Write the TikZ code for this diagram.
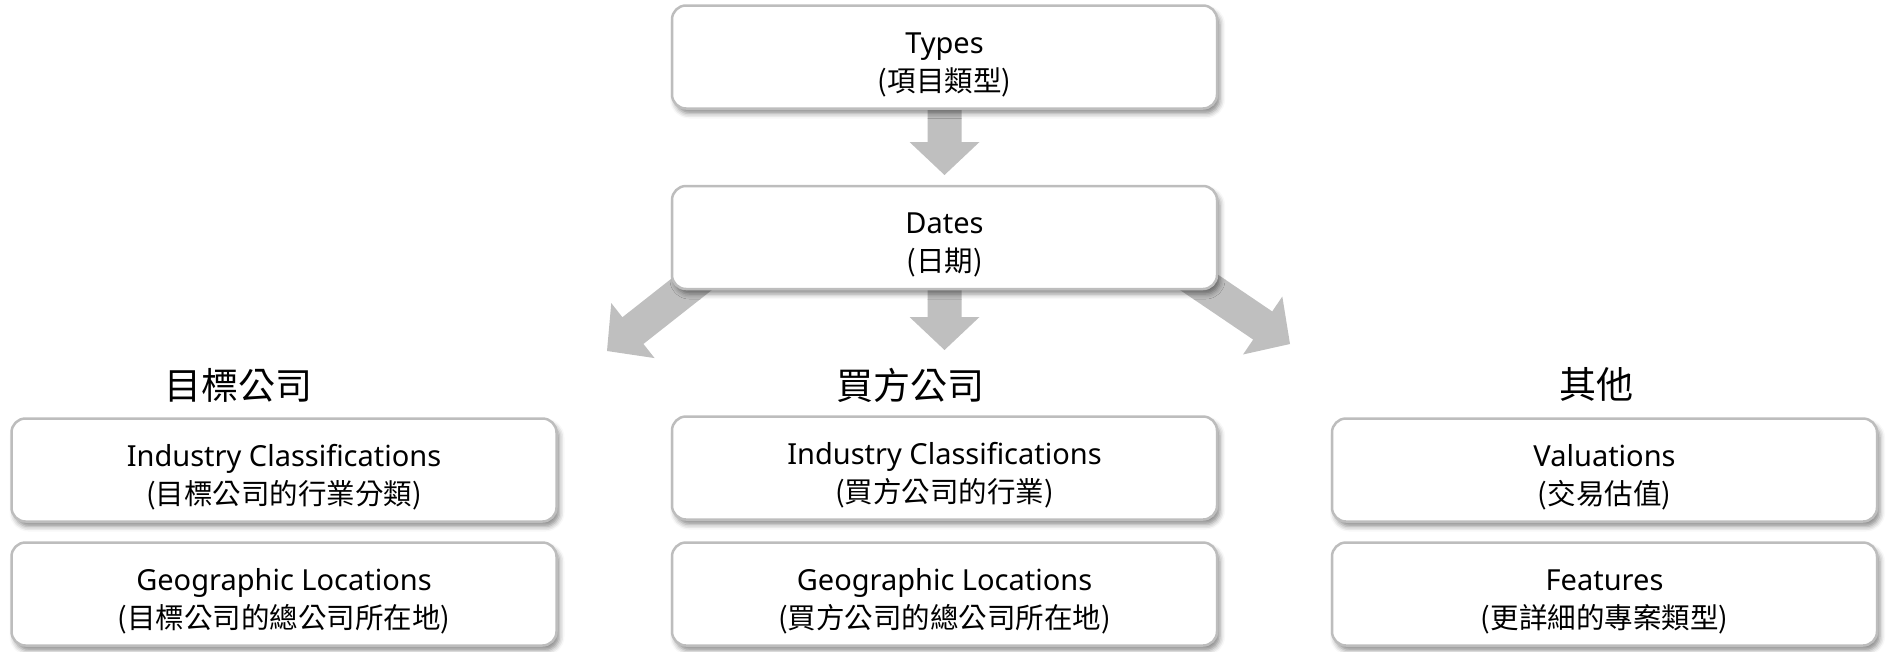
\documentclass[tikz,border=0pt]{standalone}
\usepackage{fontspec}
\setmainfont{Noto Sans}
\newfontfamily\cjkfont{Noto Sans CJK TC}
\usetikzlibrary{calc,backgrounds,shadows.blur}
\definecolor{boxline}{HTML}{BDBDBD}
\definecolor{arrowgray}{HTML}{BFBFBF}
\newcommand{\zh}[1]{{\cjkfont\fontsize{28.5}{38}\selectfont #1}}

\begin{document}
\begin{tikzpicture}[x=1pt,y=-1pt,
  itembox/.style={rectangle,draw=boxline,line width=2.5pt,fill=white,rounded corners=14pt,
    minimum width=545pt,minimum height=103pt,inner sep=0pt,align=center,
    font=\fontsize{29}{38}\selectfont,text height=74pt,
    blur shadow={shadow xshift=3pt,shadow yshift=-5pt,shadow blur radius=5pt,shadow opacity=45}},
  headtext/.style={font=\cjkfont\fontsize{37}{44}\selectfont,inner sep=0pt},
  fatarrow/.style={fill=arrowgray}]
\useasboundingbox (0,0) rectangle (1893,651);
% top chain
\node[itembox] (types) at (944.5,57) {Types\\\zh{(項目類型)}};
\node[itembox] (dates) at (944.5,237.5) {Dates\\\zh{(日期)}};
% group headings
\node[headtext] (targethead) at (238,385) {目標公司};
\node[headtext] (buyerhead) at (910,385) {買方公司};
\node[headtext] (otherhead) at (1596,384) {其他};
% group boxes
\node[itembox] (targetind) at (284,470) {Industry Classifications\\\zh{(目標公司的行業分類)}};
\node[itembox] (targetgeo) at (284,594) {Geographic Locations\\\zh{(目標公司的總公司所在地)}};
\node[itembox] (buyerind) at (944.5,468) {Industry Classifications\\\zh{(買方公司的行業)}};
\node[itembox] (buyergeo) at (944.5,594) {Geographic Locations\\\zh{(買方公司的總公司所在地)}};
\node[itembox] (othervalue) at (1604.5,470) {Valuations\\\zh{(交易估值)}};
\node[itembox] (otherfeat) at (1604.5,594) {Features\\\zh{(更詳細的專案類型)}};
% arrow ends
\coordinate (s1) at ($(types.south)+(0,-10)$);
\coordinate (t1) at (944.5,175);
\coordinate (s2) at ($(dates.south)+(0,-10)$);
\coordinate (t2) at (944.5,350);
\coordinate (s3) at (720,262);
\coordinate (t3) at (607,351);
\coordinate (s4) at (1166,260);
\coordinate (t4) at (1290,344);
\begin{scope}[on background layer]
\foreach \s/\t in {s1/t1,s2/t2,s3/t3,s4/t4} {
  \coordinate (base) at ($(\t)!33pt!(\s)$);
  \fill[fatarrow] ($(\s)!17pt!90:(\t)$) -- ($(base)!17pt!90:(\t)$)
    -- ($(base)!35pt!90:(\t)$) -- (\t) -- ($(base)!35pt!-90:(\t)$)
    -- ($(base)!17pt!-90:(\t)$) -- ($(\s)!17pt!-90:(\t)$) -- cycle;
}
\end{scope}
\end{tikzpicture}
\end{document}
